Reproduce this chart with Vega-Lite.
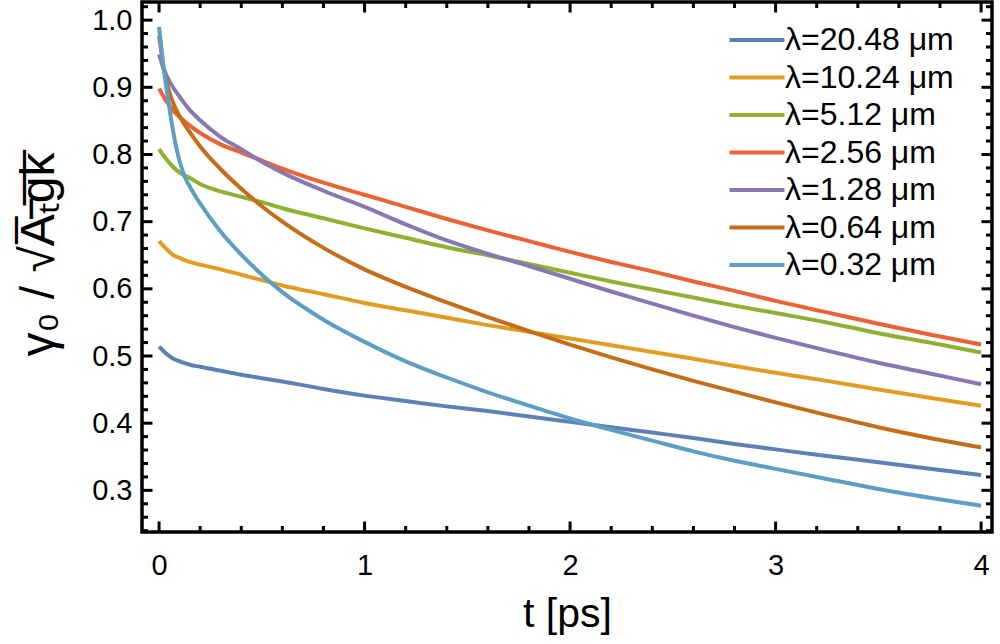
{
  "$schema": "https://vega.github.io/schema/vega-lite/v6.json",
  "width": 850,
  "height": 530,
  "autosize": {"type": "none"},
  "padding": {"left": 142, "top": 2, "right": 8, "bottom": 112},
  "background": "white",
  "config": {
    "font": "Liberation Sans",
    "view": {"stroke": "black", "strokeWidth": 3.5},
    "axis": {
      "domain": false,
      "ticks": false,
      "grid": false,
      "labelColor": "black",
      "labelFontSize": 29,
      "labelFlush": false,
      "labelOverlap": false,
      "titleFontSize": 41,
      "titleFontWeight": "normal",
      "titleColor": "black"
    }
  },
  "datasets": {
    "xticks": [
      {"t": 0, "k": "major"}, {"t": 0.2, "k": "minor"}, {"t": 0.4, "k": "minor"}, {"t": 0.6, "k": "minor"}, {"t": 0.8, "k": "minor"},
      {"t": 1, "k": "major"}, {"t": 1.2, "k": "minor"}, {"t": 1.4, "k": "minor"}, {"t": 1.6, "k": "minor"}, {"t": 1.8, "k": "minor"},
      {"t": 2, "k": "major"}, {"t": 2.2, "k": "minor"}, {"t": 2.4, "k": "minor"}, {"t": 2.6, "k": "minor"}, {"t": 2.8, "k": "minor"},
      {"t": 3, "k": "major"}, {"t": 3.2, "k": "minor"}, {"t": 3.4, "k": "minor"}, {"t": 3.6, "k": "minor"}, {"t": 3.8, "k": "minor"},
      {"t": 4, "k": "major"}
    ],
    "yticks": [
      {"v": 0.24, "k": "minor"}, {"v": 0.26, "k": "minor"}, {"v": 0.28, "k": "minor"},
      {"v": 0.3, "k": "major"}, {"v": 0.32, "k": "minor"}, {"v": 0.34, "k": "minor"}, {"v": 0.36, "k": "minor"}, {"v": 0.38, "k": "minor"},
      {"v": 0.4, "k": "major"}, {"v": 0.42, "k": "minor"}, {"v": 0.44, "k": "minor"}, {"v": 0.46, "k": "minor"}, {"v": 0.48, "k": "minor"},
      {"v": 0.5, "k": "major"}, {"v": 0.52, "k": "minor"}, {"v": 0.54, "k": "minor"}, {"v": 0.56, "k": "minor"}, {"v": 0.58, "k": "minor"},
      {"v": 0.6, "k": "major"}, {"v": 0.62, "k": "minor"}, {"v": 0.64, "k": "minor"}, {"v": 0.66, "k": "minor"}, {"v": 0.68, "k": "minor"},
      {"v": 0.7, "k": "major"}, {"v": 0.72, "k": "minor"}, {"v": 0.74, "k": "minor"}, {"v": 0.76, "k": "minor"}, {"v": 0.78, "k": "minor"},
      {"v": 0.8, "k": "major"}, {"v": 0.82, "k": "minor"}, {"v": 0.84, "k": "minor"}, {"v": 0.86, "k": "minor"}, {"v": 0.88, "k": "minor"},
      {"v": 0.9, "k": "major"}, {"v": 0.92, "k": "minor"}, {"v": 0.94, "k": "minor"}, {"v": 0.96, "k": "minor"}, {"v": 0.98, "k": "minor"},
      {"v": 1.0, "k": "major"}, {"v": 1.02, "k": "minor"}
    ],
    "curves": [
      {"s": "λ=20.48 μm", "t": 0, "v": 0.514}, {"s": "λ=20.48 μm", "t": 0.03, "v": 0.505}, {"s": "λ=20.48 μm", "t": 0.07, "v": 0.496},
      {"s": "λ=20.48 μm", "t": 0.1, "v": 0.492}, {"s": "λ=20.48 μm", "t": 0.15, "v": 0.487}, {"s": "λ=20.48 μm", "t": 0.2, "v": 0.484},
      {"s": "λ=20.48 μm", "t": 0.3, "v": 0.478}, {"s": "λ=20.48 μm", "t": 0.4, "v": 0.472}, {"s": "λ=20.48 μm", "t": 0.5, "v": 0.467},
      {"s": "λ=20.48 μm", "t": 0.6, "v": 0.462}, {"s": "λ=20.48 μm", "t": 0.8, "v": 0.451}, {"s": "λ=20.48 μm", "t": 1.0, "v": 0.441},
      {"s": "λ=20.48 μm", "t": 1.2, "v": 0.433}, {"s": "λ=20.48 μm", "t": 1.4, "v": 0.425}, {"s": "λ=20.48 μm", "t": 1.6, "v": 0.418},
      {"s": "λ=20.48 μm", "t": 1.8, "v": 0.410}, {"s": "λ=20.48 μm", "t": 2.0, "v": 0.402}, {"s": "λ=20.48 μm", "t": 2.2, "v": 0.394},
      {"s": "λ=20.48 μm", "t": 2.4, "v": 0.386}, {"s": "λ=20.48 μm", "t": 2.6, "v": 0.378}, {"s": "λ=20.48 μm", "t": 2.8, "v": 0.369},
      {"s": "λ=20.48 μm", "t": 3.0, "v": 0.361}, {"s": "λ=20.48 μm", "t": 3.25, "v": 0.351}, {"s": "λ=20.48 μm", "t": 3.5, "v": 0.342},
      {"s": "λ=20.48 μm", "t": 3.75, "v": 0.332}, {"s": "λ=20.48 μm", "t": 4.0, "v": 0.323},

      {"s": "λ=10.24 μm", "t": 0, "v": 0.671}, {"s": "λ=10.24 μm", "t": 0.03, "v": 0.661}, {"s": "λ=10.24 μm", "t": 0.07, "v": 0.650},
      {"s": "λ=10.24 μm", "t": 0.1, "v": 0.646}, {"s": "λ=10.24 μm", "t": 0.15, "v": 0.640}, {"s": "λ=10.24 μm", "t": 0.2, "v": 0.636},
      {"s": "λ=10.24 μm", "t": 0.3, "v": 0.629}, {"s": "λ=10.24 μm", "t": 0.4, "v": 0.621}, {"s": "λ=10.24 μm", "t": 0.5, "v": 0.613},
      {"s": "λ=10.24 μm", "t": 0.6, "v": 0.605}, {"s": "λ=10.24 μm", "t": 0.8, "v": 0.592}, {"s": "λ=10.24 μm", "t": 1.0, "v": 0.579},
      {"s": "λ=10.24 μm", "t": 1.2, "v": 0.568}, {"s": "λ=10.24 μm", "t": 1.4, "v": 0.557}, {"s": "λ=10.24 μm", "t": 1.6, "v": 0.546},
      {"s": "λ=10.24 μm", "t": 1.8, "v": 0.536}, {"s": "λ=10.24 μm", "t": 2.0, "v": 0.526}, {"s": "λ=10.24 μm", "t": 2.2, "v": 0.516},
      {"s": "λ=10.24 μm", "t": 2.4, "v": 0.506}, {"s": "λ=10.24 μm", "t": 2.6, "v": 0.496}, {"s": "λ=10.24 μm", "t": 2.8, "v": 0.485},
      {"s": "λ=10.24 μm", "t": 3.0, "v": 0.475}, {"s": "λ=10.24 μm", "t": 3.25, "v": 0.463}, {"s": "λ=10.24 μm", "t": 3.5, "v": 0.450},
      {"s": "λ=10.24 μm", "t": 3.75, "v": 0.438}, {"s": "λ=10.24 μm", "t": 4.0, "v": 0.426},

      {"s": "λ=5.12 μm", "t": 0, "v": 0.808}, {"s": "λ=5.12 μm", "t": 0.03, "v": 0.795}, {"s": "λ=5.12 μm", "t": 0.07, "v": 0.781},
      {"s": "λ=5.12 μm", "t": 0.1, "v": 0.773}, {"s": "λ=5.12 μm", "t": 0.15, "v": 0.765}, {"s": "λ=5.12 μm", "t": 0.2, "v": 0.756},
      {"s": "λ=5.12 μm", "t": 0.3, "v": 0.745}, {"s": "λ=5.12 μm", "t": 0.4, "v": 0.737}, {"s": "λ=5.12 μm", "t": 0.5, "v": 0.729},
      {"s": "λ=5.12 μm", "t": 0.6, "v": 0.720}, {"s": "λ=5.12 μm", "t": 0.8, "v": 0.705}, {"s": "λ=5.12 μm", "t": 1.0, "v": 0.690},
      {"s": "λ=5.12 μm", "t": 1.2, "v": 0.676}, {"s": "λ=5.12 μm", "t": 1.4, "v": 0.662}, {"s": "λ=5.12 μm", "t": 1.6, "v": 0.650},
      {"s": "λ=5.12 μm", "t": 1.8, "v": 0.637}, {"s": "λ=5.12 μm", "t": 2.0, "v": 0.624}, {"s": "λ=5.12 μm", "t": 2.2, "v": 0.611},
      {"s": "λ=5.12 μm", "t": 2.4, "v": 0.599}, {"s": "λ=5.12 μm", "t": 2.6, "v": 0.587}, {"s": "λ=5.12 μm", "t": 2.8, "v": 0.575},
      {"s": "λ=5.12 μm", "t": 3.0, "v": 0.564}, {"s": "λ=5.12 μm", "t": 3.25, "v": 0.550}, {"s": "λ=5.12 μm", "t": 3.5, "v": 0.534},
      {"s": "λ=5.12 μm", "t": 3.75, "v": 0.520}, {"s": "λ=5.12 μm", "t": 4.0, "v": 0.505},

      {"s": "λ=2.56 μm", "t": 0, "v": 0.898}, {"s": "λ=2.56 μm", "t": 0.03, "v": 0.882}, {"s": "λ=2.56 μm", "t": 0.07, "v": 0.865},
      {"s": "λ=2.56 μm", "t": 0.1, "v": 0.856}, {"s": "λ=2.56 μm", "t": 0.15, "v": 0.843}, {"s": "λ=2.56 μm", "t": 0.2, "v": 0.832},
      {"s": "λ=2.56 μm", "t": 0.3, "v": 0.815}, {"s": "λ=2.56 μm", "t": 0.4, "v": 0.803}, {"s": "λ=2.56 μm", "t": 0.5, "v": 0.791},
      {"s": "λ=2.56 μm", "t": 0.6, "v": 0.779}, {"s": "λ=2.56 μm", "t": 0.8, "v": 0.758}, {"s": "λ=2.56 μm", "t": 1.0, "v": 0.740},
      {"s": "λ=2.56 μm", "t": 1.2, "v": 0.722}, {"s": "λ=2.56 μm", "t": 1.4, "v": 0.704}, {"s": "λ=2.56 μm", "t": 1.6, "v": 0.687},
      {"s": "λ=2.56 μm", "t": 1.8, "v": 0.671}, {"s": "λ=2.56 μm", "t": 2.0, "v": 0.655}, {"s": "λ=2.56 μm", "t": 2.2, "v": 0.640},
      {"s": "λ=2.56 μm", "t": 2.4, "v": 0.626}, {"s": "λ=2.56 μm", "t": 2.6, "v": 0.611}, {"s": "λ=2.56 μm", "t": 2.8, "v": 0.597},
      {"s": "λ=2.56 μm", "t": 3.0, "v": 0.582}, {"s": "λ=2.56 μm", "t": 3.25, "v": 0.565}, {"s": "λ=2.56 μm", "t": 3.5, "v": 0.548},
      {"s": "λ=2.56 μm", "t": 3.75, "v": 0.532}, {"s": "λ=2.56 μm", "t": 4.0, "v": 0.517},

      {"s": "λ=1.28 μm", "t": 0, "v": 0.949}, {"s": "λ=1.28 μm", "t": 0.02, "v": 0.930}, {"s": "λ=1.28 μm", "t": 0.045, "v": 0.912},
      {"s": "λ=1.28 μm", "t": 0.07, "v": 0.899}, {"s": "λ=1.28 μm", "t": 0.1, "v": 0.886}, {"s": "λ=1.28 μm", "t": 0.15, "v": 0.866},
      {"s": "λ=1.28 μm", "t": 0.2, "v": 0.851}, {"s": "λ=1.28 μm", "t": 0.3, "v": 0.826}, {"s": "λ=1.28 μm", "t": 0.4, "v": 0.808},
      {"s": "λ=1.28 μm", "t": 0.5, "v": 0.789}, {"s": "λ=1.28 μm", "t": 0.6, "v": 0.773}, {"s": "λ=1.28 μm", "t": 0.8, "v": 0.746},
      {"s": "λ=1.28 μm", "t": 1.0, "v": 0.722}, {"s": "λ=1.28 μm", "t": 1.2, "v": 0.696}, {"s": "λ=1.28 μm", "t": 1.4, "v": 0.672},
      {"s": "λ=1.28 μm", "t": 1.6, "v": 0.652}, {"s": "λ=1.28 μm", "t": 1.8, "v": 0.634}, {"s": "λ=1.28 μm", "t": 2.0, "v": 0.615},
      {"s": "λ=1.28 μm", "t": 2.2, "v": 0.596}, {"s": "λ=1.28 μm", "t": 2.4, "v": 0.578}, {"s": "λ=1.28 μm", "t": 2.6, "v": 0.560},
      {"s": "λ=1.28 μm", "t": 2.8, "v": 0.543}, {"s": "λ=1.28 μm", "t": 3.0, "v": 0.527}, {"s": "λ=1.28 μm", "t": 3.25, "v": 0.508},
      {"s": "λ=1.28 μm", "t": 3.5, "v": 0.490}, {"s": "λ=1.28 μm", "t": 3.75, "v": 0.474}, {"s": "λ=1.28 μm", "t": 4.0, "v": 0.458},

      {"s": "λ=0.64 μm", "t": 0, "v": 0.977}, {"s": "λ=0.64 μm", "t": 0.01, "v": 0.955}, {"s": "λ=0.64 μm", "t": 0.02, "v": 0.932},
      {"s": "λ=0.64 μm", "t": 0.035, "v": 0.910}, {"s": "λ=0.64 μm", "t": 0.05, "v": 0.893}, {"s": "λ=0.64 μm", "t": 0.07, "v": 0.876},
      {"s": "λ=0.64 μm", "t": 0.1, "v": 0.857}, {"s": "λ=0.64 μm", "t": 0.15, "v": 0.833}, {"s": "λ=0.64 μm", "t": 0.2, "v": 0.812},
      {"s": "λ=0.64 μm", "t": 0.3, "v": 0.778}, {"s": "λ=0.64 μm", "t": 0.4, "v": 0.749}, {"s": "λ=0.64 μm", "t": 0.5, "v": 0.723},
      {"s": "λ=0.64 μm", "t": 0.6, "v": 0.700}, {"s": "λ=0.64 μm", "t": 0.8, "v": 0.661}, {"s": "λ=0.64 μm", "t": 1.0, "v": 0.629},
      {"s": "λ=0.64 μm", "t": 1.2, "v": 0.603}, {"s": "λ=0.64 μm", "t": 1.4, "v": 0.580}, {"s": "λ=0.64 μm", "t": 1.6, "v": 0.558},
      {"s": "λ=0.64 μm", "t": 1.8, "v": 0.537}, {"s": "λ=0.64 μm", "t": 2.0, "v": 0.517}, {"s": "λ=0.64 μm", "t": 2.2, "v": 0.498},
      {"s": "λ=0.64 μm", "t": 2.4, "v": 0.480}, {"s": "λ=0.64 μm", "t": 2.6, "v": 0.463}, {"s": "λ=0.64 μm", "t": 2.8, "v": 0.447},
      {"s": "λ=0.64 μm", "t": 3.0, "v": 0.431}, {"s": "λ=0.64 μm", "t": 3.25, "v": 0.412}, {"s": "λ=0.64 μm", "t": 3.5, "v": 0.394},
      {"s": "λ=0.64 μm", "t": 3.75, "v": 0.378}, {"s": "λ=0.64 μm", "t": 4.0, "v": 0.364},

      {"s": "λ=0.32 μm", "t": 0, "v": 0.990}, {"s": "λ=0.32 μm", "t": 0.01, "v": 0.962}, {"s": "λ=0.32 μm", "t": 0.02, "v": 0.935},
      {"s": "λ=0.32 μm", "t": 0.045, "v": 0.880}, {"s": "λ=0.32 μm", "t": 0.07, "v": 0.832}, {"s": "λ=0.32 μm", "t": 0.1, "v": 0.790},
      {"s": "λ=0.32 μm", "t": 0.125, "v": 0.767}, {"s": "λ=0.32 μm", "t": 0.15, "v": 0.752}, {"s": "λ=0.32 μm", "t": 0.2, "v": 0.727},
      {"s": "λ=0.32 μm", "t": 0.3, "v": 0.685}, {"s": "λ=0.32 μm", "t": 0.4, "v": 0.651}, {"s": "λ=0.32 μm", "t": 0.5, "v": 0.621},
      {"s": "λ=0.32 μm", "t": 0.6, "v": 0.595}, {"s": "λ=0.32 μm", "t": 0.8, "v": 0.554}, {"s": "λ=0.32 μm", "t": 1.0, "v": 0.521},
      {"s": "λ=0.32 μm", "t": 1.2, "v": 0.492}, {"s": "λ=0.32 μm", "t": 1.4, "v": 0.468}, {"s": "λ=0.32 μm", "t": 1.6, "v": 0.446},
      {"s": "λ=0.32 μm", "t": 1.8, "v": 0.426}, {"s": "λ=0.32 μm", "t": 2.0, "v": 0.407}, {"s": "λ=0.32 μm", "t": 2.2, "v": 0.390},
      {"s": "λ=0.32 μm", "t": 2.4, "v": 0.374}, {"s": "λ=0.32 μm", "t": 2.6, "v": 0.358}, {"s": "λ=0.32 μm", "t": 2.8, "v": 0.344},
      {"s": "λ=0.32 μm", "t": 3.0, "v": 0.332}, {"s": "λ=0.32 μm", "t": 3.25, "v": 0.317}, {"s": "λ=0.32 μm", "t": 3.5, "v": 0.302},
      {"s": "λ=0.32 μm", "t": 3.75, "v": 0.289}, {"s": "λ=0.32 μm", "t": 4.0, "v": 0.277}
    ]
  },
  "layer": [
    {
      "data": {"name": "curves"},
      "mark": {"type": "line", "strokeWidth": 4, "interpolate": "monotone"},
      "encoding": {
        "x": {
          "field": "t", "type": "quantitative",
          "scale": {"domain": [-0.083, 4.053], "nice": false, "zero": false},
          "axis": {"orient": "bottom", "values": [0, 1, 2, 3, 4], "format": "d", "labelPadding": 19, "title": "t [ps]", "titlePadding": 14}
        },
        "y": {
          "field": "v", "type": "quantitative",
          "scale": {"domain": [0.238, 1.027], "nice": false, "zero": false},
          "axis": {"orient": "left", "values": [0.3, 0.4, 0.5, 0.6, 0.7, 0.8, 0.9, 1.0], "format": ".1f", "labelPadding": 10, "title": "γ₀ / √A̅ₜ̅g̅k̅", "titleFontSize": 48, "titlePadding": 28, "titleY": 252}
        },
        "color": {
          "field": "s", "type": "nominal",
          "sort": ["λ=20.48 μm", "λ=10.24 μm", "λ=5.12 μm", "λ=2.56 μm", "λ=1.28 μm", "λ=0.64 μm", "λ=0.32 μm"],
          "scale": {
            "domain": ["λ=20.48 μm", "λ=10.24 μm", "λ=5.12 μm", "λ=2.56 μm", "λ=1.28 μm", "λ=0.64 μm", "λ=0.32 μm"],
            "range": ["#5E81B5", "#E19C24", "#8FB032", "#EB6235", "#8778B3", "#C56E1A", "#5D9EC7"]
          },
          "legend": {
            "orient": "none", "legendX": 599, "legendY": 22, "title": null,
            "symbolType": "M-2,0H2", "symbolSize": 756, "symbolStrokeWidth": 4,
            "labelFontSize": 32, "labelLimit": 400, "labelColor": "black", "labelOffset": 12, "rowPadding": 5.5
          }
        }
      }
    },
    {
      "data": {"name": "xticks"},
      "mark": {"type": "tick", "orient": "vertical", "thickness": 3, "color": "black", "opacity": 1, "clip": true},
      "encoding": {
        "x": {"field": "t", "type": "quantitative", "scale": {"domain": [-0.083, 4.053], "nice": false, "zero": false}, "axis": null},
        "y": {"datum": 0.238, "type": "quantitative", "scale": {"domain": [0.238, 1.027], "nice": false, "zero": false}, "axis": null},
        "size": {"field": "k", "type": "ordinal", "scale": {"domain": ["major", "minor"], "range": [21, 12]}, "legend": null}
      }
    },
    {
      "data": {"name": "xticks"},
      "mark": {"type": "tick", "orient": "vertical", "thickness": 3, "color": "black", "opacity": 1, "clip": true},
      "encoding": {
        "x": {"field": "t", "type": "quantitative", "scale": {"domain": [-0.083, 4.053], "nice": false, "zero": false}, "axis": null},
        "y": {"datum": 1.027, "type": "quantitative", "scale": {"domain": [0.238, 1.027], "nice": false, "zero": false}, "axis": null},
        "size": {"field": "k", "type": "ordinal", "scale": {"domain": ["major", "minor"], "range": [21, 12]}, "legend": null}
      }
    },
    {
      "data": {"name": "yticks"},
      "mark": {"type": "tick", "orient": "horizontal", "thickness": 3, "color": "black", "opacity": 1, "clip": true},
      "encoding": {
        "y": {"field": "v", "type": "quantitative", "scale": {"domain": [0.238, 1.027], "nice": false, "zero": false}, "axis": null},
        "x": {"datum": -0.083, "type": "quantitative", "scale": {"domain": [-0.083, 4.053], "nice": false, "zero": false}, "axis": null},
        "size": {"field": "k", "type": "ordinal", "scale": {"domain": ["major", "minor"], "range": [21, 12]}, "legend": null}
      }
    },
    {
      "data": {"name": "yticks"},
      "mark": {"type": "tick", "orient": "horizontal", "thickness": 3, "color": "black", "opacity": 1, "clip": true},
      "encoding": {
        "y": {"field": "v", "type": "quantitative", "scale": {"domain": [0.238, 1.027], "nice": false, "zero": false}, "axis": null},
        "x": {"datum": 4.053, "type": "quantitative", "scale": {"domain": [-0.083, 4.053], "nice": false, "zero": false}, "axis": null},
        "size": {"field": "k", "type": "ordinal", "scale": {"domain": ["major", "minor"], "range": [21, 12]}, "legend": null}
      }
    }
  ],
  "resolve": {"axis": {"x": "independent", "y": "independent"}}
}
